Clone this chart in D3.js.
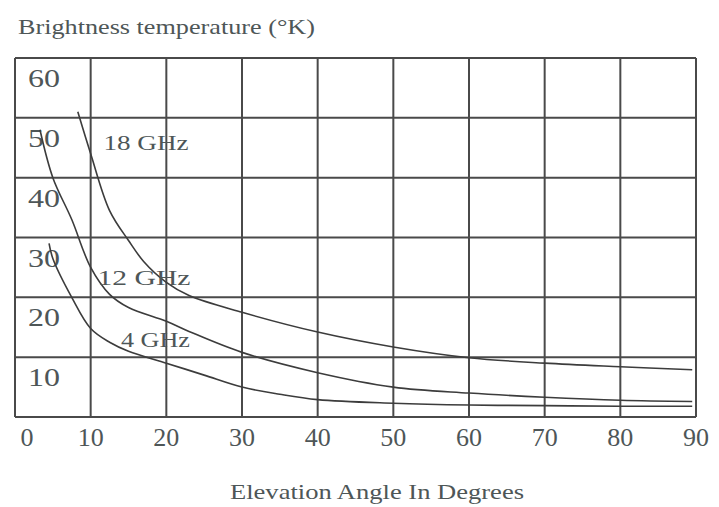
<!DOCTYPE html>
<html>
<head>
<meta charset="utf-8">
<script src="https://cdn.jsdelivr.net/npm/d3@7"></script>
<style>
  body { margin: 0; background: #fff; }
  text { font-family: "Liberation Serif", "DejaVu Serif", serif; fill: #4e5657; }
</style>
</head>
<body>
<div id="chart"></div>
<script>
// Data (elevation angle in degrees, brightness temperature in K)
const xTicks = [0, 10, 20, 30, 40, 50, 60, 70, 80, 90];
const yTicks = [10, 20, 30, 40, 50, 60];

const angles18 = [8.3, 10, 12.5, 15, 17, 20, 23, 30, 40, 50, 60, 70, 80, 89.5];
const temps18  = [51, 44, 34.5, 29.5, 26, 22.5, 20.3, 17.5, 14.2, 11.7, 9.9, 9.0, 8.4, 7.9];

const angles12 = [3.3, 5, 7.5, 10, 12.5, 15, 20, 23, 30, 40, 50, 60, 70, 80, 89.5];
const temps12  = [48, 40, 33, 25, 20.5, 18.3, 16, 14.3, 10.8, 7.4, 5.0, 4.0, 3.3, 2.8, 2.6];

const angles4 = [4.5, 5, 7.5, 10, 12.5, 15, 20, 25, 30, 35, 40, 50, 60, 70, 80, 89.5];
const temps4  = [29, 26.5, 20, 14.8, 12.5, 11, 9, 7, 5, 3.8, 2.9, 2.3, 2.0, 1.9, 1.8, 1.8];

const seriesNames = ["18 GHz", "12 GHz", "4 GHz"];
// label anchor in data units (angle, temperature)
const labelAngles = [11.7, 10.9, 14];
const labelTemps  = [44.7, 22, 11.7];

const width = 719, height = 507;
const margin = { top: 58, right: 23, bottom: 90, left: 15 };

const svg = d3.select("#chart").append("svg")
    .attr("width", width)
    .attr("height", height);

const x = d3.scaleLinear().domain([0, 90]).range([margin.left, width - margin.right]);
const y = d3.scaleLinear().domain([0, 60]).range([height - margin.bottom, margin.top]);

// the scan is stretched sideways, so text is fitted to the widths seen in it
function stretch(sel, w) {
    sel.attr("textLength", w).attr("lengthAdjust", "spacingAndGlyphs");
}

// title
svg.append("text")
    .attr("x", 18)
    .attr("y", 34)
    .attr("font-size", 22)
    .text("Brightness temperature (°K)")
    .call(stretch, 297);

// grid
const grid = svg.append("g").attr("stroke", "#4a4a4a").attr("stroke-width", 2);
grid.selectAll(".vline")
    .data(xTicks)
    .enter().append("line")
    .attr("x1", d => x(d)).attr("x2", d => x(d))
    .attr("y1", y(0)).attr("y2", y(60));
grid.selectAll(".hline")
    .data([0].concat(yTicks))
    .enter().append("line")
    .attr("x1", x(0)).attr("x2", x(90))
    .attr("y1", d => y(d)).attr("y2", d => y(d));

// y tick labels sit inside the frame, just below their line
svg.append("g").selectAll("text")
    .data(yTicks)
    .enter().append("text")
    .attr("x", x(0) + 13)
    .attr("y", d => y(d) + 29)
    .attr("font-size", 26)
    .text(d => d)
    .call(stretch, 32);

// x tick labels
svg.append("g").selectAll("text")
    .data(xTicks)
    .enter().append("text")
    .attr("x", d => d === 0 ? x(d) + 12 : x(d))
    .attr("y", 446)
    .attr("text-anchor", "middle")
    .attr("font-size", 26)
    .text(d => d);

// axis title
svg.append("text")
    .attr("x", 230)
    .attr("y", 499)
    .attr("font-size", 21)
    .text("Elevation Angle In Degrees")
    .call(stretch, 294);

// curves
const line = d3.line()
    .x(d => x(d[0]))
    .y(d => y(d[1]))
    .curve(d3.curveCatmullRom.alpha(0.5));

const series = [
    d3.zip(angles18, temps18),
    d3.zip(angles12, temps12),
    d3.zip(angles4, temps4)
];

svg.append("g").selectAll("path")
    .data(series)
    .enter().append("path")
    .attr("fill", "none")
    .attr("stroke", "#3c3c3c")
    .attr("stroke-width", 1.6)
    .attr("d", line);

// curve labels
const labelWidths = [85, 93, 69];
svg.append("g").selectAll("text")
    .data(seriesNames)
    .enter().append("text")
    .attr("x", (d, i) => x(labelAngles[i]))
    .attr("y", (d, i) => y(labelTemps[i]))
    .attr("font-size", 21)
    .attr("textLength", (d, i) => labelWidths[i])
    .attr("lengthAdjust", "spacingAndGlyphs")
    .text(d => d);
</script>
</body>
</html>
